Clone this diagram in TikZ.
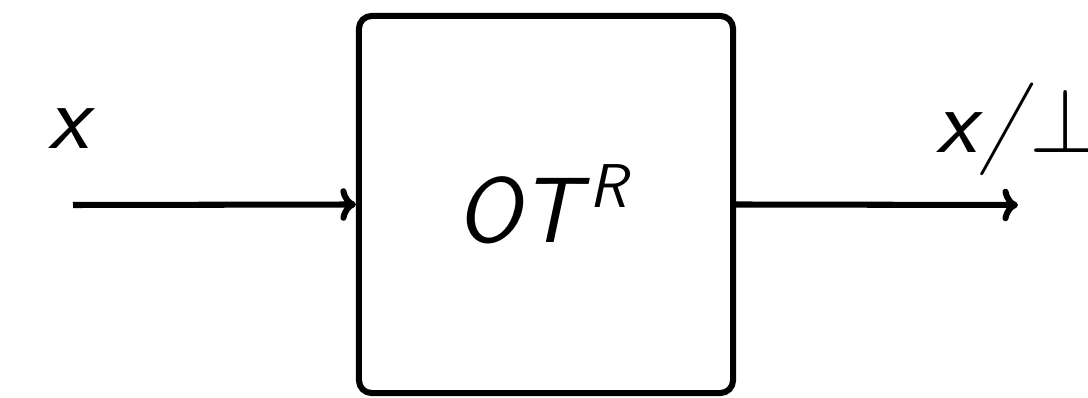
\RequirePackage{fix-cm}
\documentclass[tikz,border=0pt]{standalone}
\usepackage{tikz}
\usetikzlibrary{arrows.meta}

\tikzset{
 lbl/.style={font=\sffamily\itshape\fontsize{66}{70}\selectfont,inner sep=0pt},
 blockbox/.style={draw,rounded corners=9pt,minimum width=9.35cm,minimum height=9.425cm,inner sep=0pt}
}

\begin{document}
\begin{tikzpicture}[x=0.025cm,y=-0.025cm,>=To,line width=4.3pt]
 \useasboundingbox (0,0) rectangle (1088,398);
 \node[blockbox,lbl] (ot) at (546,204.5) {\hspace*{-6pt}OT\kern7pt\raisebox{25pt}{\fontsize{44}{48}\selectfont R}};
 \coordinate (src) at (73,205);
 \coordinate (dst) at (1018,205);
 \draw[->] (src)--(ot.west);
 \draw[->] (ot.east)--(dst);
 \node[lbl] (xin) at (69,129) {x};
 \node[lbl,anchor=base west] (xout) at (933,153) {x\kern3pt/\kern4pt$\perp$};
\end{tikzpicture}
\end{document}
